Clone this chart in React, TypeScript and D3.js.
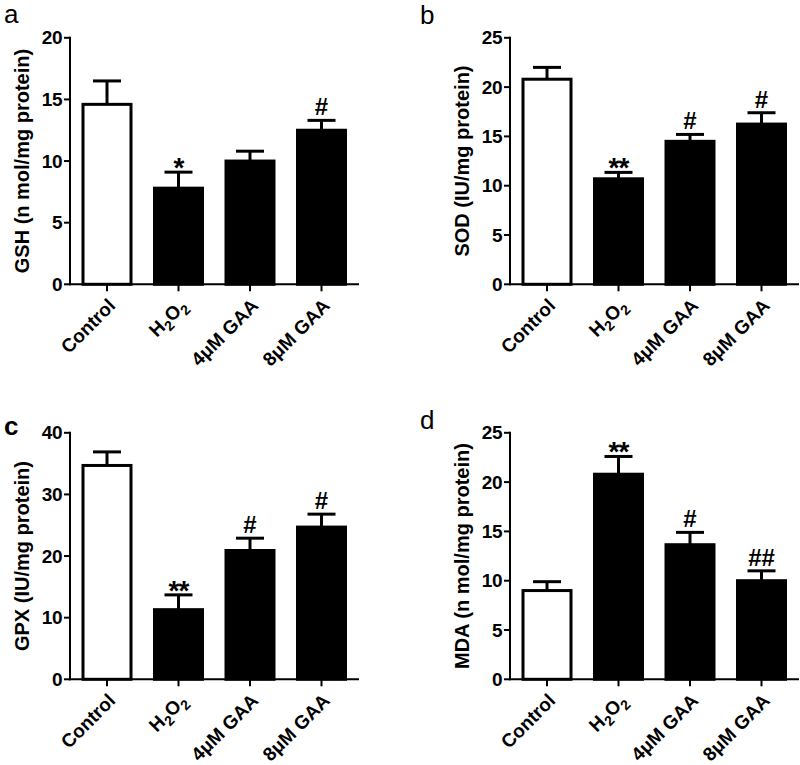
import React from "react";
import * as d3 from "d3";

const categories = ["Control", "H2O2", "4μM GAA", "8μM GAA"];
const barFills = ["white", "black", "black", "black"];

const gshMean = [14.6, 7.8, 10.0, 12.5];
const gshErr = [1.9, 1.3, 0.8, 0.8];
const gshSig = ["", "*", "", "#"];
const gshTicks = [0, 5, 10, 15, 20];

const sodMean = [20.8, 10.7, 14.5, 16.25];
const sodErr = [1.2, 0.65, 0.7, 1.15];
const sodSig = ["", "**", "#", "#"];
const sodTicks = [0, 5, 10, 15, 20, 25];

const gpxMean = [34.7, 11.3, 20.9, 24.7];
const gpxErr = [2.2, 2.4, 2.0, 2.1];
const gpxSig = ["", "**", "#", "#"];
const gpxTicks = [0, 10, 20, 30, 40];

const mdaMean = [9.0, 20.8, 13.65, 10.0];
const mdaErr = [0.9, 1.8, 1.25, 1.0];
const mdaSig = ["", "**", "#", "##"];
const mdaTicks = [0, 5, 10, 15, 20, 25];

const FONT = "'Liberation Sans', Arial, Helvetica, sans-serif";

type PanelProps = {
  letter: string;
  letterX: number;
  letterY: number;
  letterBold?: boolean;
  ox: number;
  oy: number;
  ylabel: string;
  means: number[];
  errs: number[];
  sig: string[];
  ticks: number[];
};

function XLabel({ text }: { text: string }) {
  if (text === "H2O2") {
    return (
      <>
        H<tspan fontSize={14} dy={6}>2</tspan>
        <tspan dy={-6}>O</tspan>
        <tspan fontSize={14} dy={6}>2</tspan>
      </>
    );
  }
  return <>{text}</>;
}

function Panel(p: PanelProps) {
  const H = 246.5;
  const W = 289;
  const yMax = p.ticks[p.ticks.length - 1];
  const y = d3.scaleLinear().domain([0, yMax]).range([p.oy, p.oy - H]);
  const x = d3
    .scalePoint<string>()
    .domain(categories)
    .range([p.ox + 37, p.ox + 251.5]);
  const barW = 48;
  const capHalf = 14;
  return (
    <g fontFamily={FONT}>
      <text
        x={p.letterX}
        y={p.letterY}
        fontSize={26}
        fontWeight={p.letterBold ? "bold" : "normal"}
      >
        {p.letter}
      </text>
      {categories.map((c, i) => {
        const cx = x(c)!;
        const top = y(p.means[i]);
        const et = y(p.means[i] + p.errs[i]);
        const s = p.sig[i];
        return (
          <g key={c}>
            <line x1={cx} x2={cx} y1={top} y2={et} stroke="black" strokeWidth={3} />
            <line
              x1={cx - capHalf}
              x2={cx + capHalf}
              y1={et}
              y2={et}
              stroke="black"
              strokeWidth={3}
            />
            <rect
              x={cx - barW / 2}
              y={top}
              width={barW}
              height={p.oy - top}
              fill={barFills[i]}
              stroke="black"
              strokeWidth={3}
            />
            {s ? (
              s.startsWith("*") ? (
                <text
                  x={cx}
                  y={et + 5}
                  textAnchor="middle"
                  fontSize={28}
                  fontWeight="bold"
                  letterSpacing={-1}
                >
                  {s}
                </text>
              ) : (
                <text
                  x={cx}
                  y={et - 5}
                  textAnchor="middle"
                  fontSize={24}
                  fontWeight="bold"
                >
                  {s}
                </text>
              )
            ) : null}
            <line
              x1={cx}
              x2={cx}
              y1={p.oy}
              y2={p.oy + 7}
              stroke="black"
              strokeWidth={2}
            />
            <text
              transform={`translate(${cx + 6},${p.oy + 19}) rotate(-45)`}
              textAnchor="end"
              fontSize={19}
              fontWeight="bold"
              dominantBaseline="middle"
            >
              <XLabel text={c} />
            </text>
          </g>
        );
      })}
      <line x1={p.ox} x2={p.ox} y1={y(yMax) - 1} y2={p.oy + 1} stroke="black" strokeWidth={2} />
      <line x1={p.ox - 1} x2={p.ox + W} y1={p.oy} y2={p.oy} stroke="black" strokeWidth={2} />
      {p.ticks.map((t) => (
        <g key={t}>
          <line
            x1={p.ox - 6}
            x2={p.ox}
            y1={y(t)}
            y2={y(t)}
            stroke="black"
            strokeWidth={2}
          />
          <text
            x={p.ox - 8}
            y={y(t)}
            textAnchor="end"
            dominantBaseline="central"
            fontSize={19}
            fontWeight="bold"
            letterSpacing={-0.5}
          >
            {t}
          </text>
        </g>
      ))}
      <text
        transform={`translate(${p.ox - 48},${p.oy - H / 2}) rotate(-90)`}
        textAnchor="middle"
        dominantBaseline="central"
        fontSize={20}
        fontWeight="bold"
      >
        {p.ylabel}
      </text>
    </g>
  );
}

export default function App() {
  return (
    <svg
      width={800}
      height={765}
      style={{ position: "absolute", left: 0, top: 0, background: "white" }}
    >
      <rect width={800} height={765} fill="white" />
      <Panel
        letter="a"
        letterX={4}
        letterY={23}
        ox={70}
        oy={284.3}
        ylabel="GSH (n mol/mg protein)"
        means={gshMean}
        errs={gshErr}
        sig={gshSig}
        ticks={gshTicks}
      />
      <Panel
        letter="b"
        letterX={420}
        letterY={24}
        ox={510}
        oy={284.3}
        ylabel="SOD (IU/mg protein)"
        means={sodMean}
        errs={sodErr}
        sig={sodSig}
        ticks={sodTicks}
      />
      <Panel
        letter="c"
        letterX={4}
        letterY={435}
        letterBold
        ox={70}
        oy={679.3}
        ylabel="GPX (IU/mg protein)"
        means={gpxMean}
        errs={gpxErr}
        sig={gpxSig}
        ticks={gpxTicks}
      />
      <Panel
        letter="d"
        letterX={420}
        letterY={429}
        ox={510}
        oy={679.3}
        ylabel="MDA (n mol/mg protein)"
        means={mdaMean}
        errs={mdaErr}
        sig={mdaSig}
        ticks={mdaTicks}
      />
    </svg>
  );
}
